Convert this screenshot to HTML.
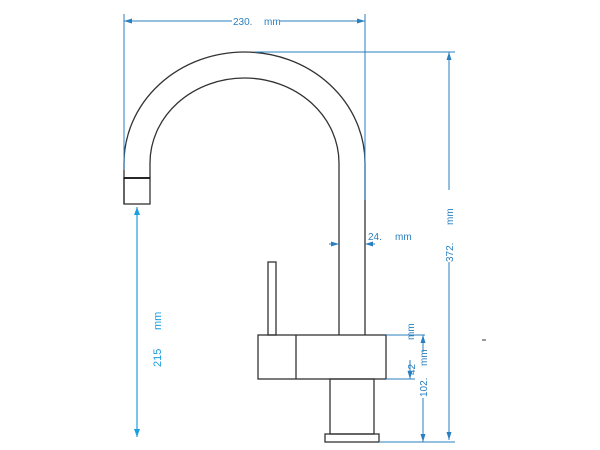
<!DOCTYPE html>
<html><head><style>body{margin:0;background:#fff}svg{display:block}</style></head><body>
<svg width="600" height="450" viewBox="0 0 600 450" xmlns="http://www.w3.org/2000/svg" font-family="Liberation Sans, sans-serif">
<g fill="none" stroke="#333" stroke-width="1.3">
<path d="M124,204 L124,163 A120.5,111 0 0 1 365,163 L365,335"/>
<path d="M150,178 L150,163 A94.5,85 0 0 1 339,163 L339,335"/>
<rect x="124" y="178" width="26" height="26"/>
<line x1="124" y1="178" x2="150" y2="178" stroke="#111" stroke-width="1.8"/>
<rect x="268" y="262" width="8" height="73"/>
<rect x="258" y="335" width="128" height="44"/>
<line x1="296" y1="335" x2="296" y2="379"/>
<rect x="330" y="379" width="44" height="55"/>
<rect x="325" y="434" width="54" height="8"/>
</g>
<g stroke="#2a7fbf" stroke-width="1" fill="none">
<line x1="124" y1="14" x2="124" y2="170"/>
<line x1="365" y1="14" x2="365" y2="200"/>
<line x1="124" y1="21" x2="232" y2="21"/><line x1="280" y1="21" x2="365" y2="21"/>
<line x1="255" y1="52" x2="455" y2="52"/>
<line x1="449" y1="52" x2="449" y2="190"/><line x1="449" y1="262" x2="449" y2="440"/>
<line x1="380" y1="442" x2="455" y2="442"/>
<line x1="386" y1="335" x2="425" y2="335"/><line x1="386" y1="379" x2="415" y2="379"/>
<line x1="410" y1="360" x2="410" y2="379"/>
<line x1="423" y1="335" x2="423" y2="352"/><line x1="423" y1="398" x2="423" y2="442"/>
<line x1="329" y1="244" x2="339" y2="244"/><line x1="365" y1="244" x2="375" y2="244"/>
</g>
<g fill="#2a7fbf">
<path d="M124,21 l8,-2.5 v5z"/><path d="M365,21 l-8,-2.5 v5z"/>
<path d="M449,52 l-2.5,8 h5z"/><path d="M449,440 l-2.5,-8 h5z"/>
<path d="M423,335 l-2.5,8 h5z"/><path d="M423,442 l-2.5,-8 h5z"/>
<path d="M410,379 l-2.5,-8 h5z"/>
<path d="M339,244 l-8,-2.5 v5z"/><path d="M365,244 l8,-2.5 v5z"/>
</g>
<line x1="137" y1="207" x2="137" y2="437" stroke="#1aa0e0" stroke-width="1.2"/>
<path d="M137,207 l-3,8 h6z M137,437 l-3,-8 h6z" fill="#1aa0e0"/>
<g fill="#2a7fbf" font-size="10">
<text x="233" y="25">230.</text><text x="264" y="25">mm</text>
<text x="368" y="240">24.</text><text x="395" y="240">mm</text>
<text transform="translate(453,262) rotate(-90)">372.</text><text transform="translate(453,225) rotate(-90)">mm</text>
<text transform="translate(427,397) rotate(-90)">102.</text>
<text transform="translate(415,375) rotate(-90)">42</text>
<text transform="translate(427,366) rotate(-90)">mm</text>
<text transform="translate(414,340) rotate(-90)">mm</text>
</g>
<g fill="#1aa0e0" font-size="11">
<text transform="translate(161,367) rotate(-90)">215</text>
<text transform="translate(161,330) rotate(-90)">mm</text>
</g>
<line x1="482" y1="340" x2="486" y2="340" stroke="#333"/>
</svg>
</body></html>
